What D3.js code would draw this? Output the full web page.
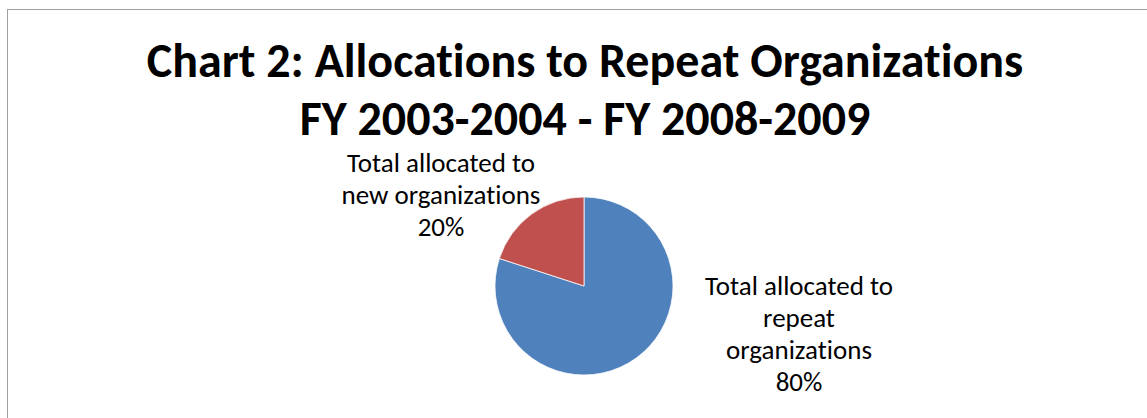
<!DOCTYPE html>
<html>
<head>
<meta charset="utf-8">
<script src="https://cdn.jsdelivr.net/npm/d3@7"></script>
<style>
  html, body { margin: 0; padding: 0; background: white; }
  svg { display: block; }
  text { font-variant-ligatures: none; font-feature-settings: "liga" 0, "clig" 0; }
</style>
</head>
<body>
<div id="chart"></div>
<script>
// data
const categories = ["Total allocated to repeat organizations", "Total allocated to new organizations"];
const values = [80, 20];
const labelLines = [
    ["Total allocated to", "repeat", "organizations", "80%"],
    ["Total allocated to", "new organizations", "20%"]
];
const titleLines = ["Chart 2: Allocations to Repeat Organizations", "FY 2003-2004 - FY 2008-2009"];

const width = 1147, height = 418;
const colors = ["#4F81BD", "#C0504D"];
const fontFamily = "Carlito, Calibri, 'Open Sans', 'Liberation Sans', sans-serif";

const svg = d3.select("#chart").append("svg")
    .attr("width", width)
    .attr("height", height);

svg.append("rect")
    .attr("width", width)
    .attr("height", height)
    .attr("fill", "white");

// chart border (runs off right and bottom)
svg.append("rect")
    .attr("x", 7.5)
    .attr("y", 9.5)
    .attr("width", width + 20)
    .attr("height", height + 20)
    .attr("fill", "none")
    .attr("stroke", "#a0a0a0")
    .attr("stroke-width", 1);

// title
svg.append("g")
    .attr("transform", "translate(585,0)")
    .selectAll("text")
    .data(titleLines)
    .enter().append("text")
    .attr("text-anchor", "middle")
    .attr("y", (d, i) => 77 + i * 58)
    .style("font-family", fontFamily)
    .style("font-size", "48px")
    .style("font-weight", "bold")
    .attr("fill", "#000")
    .text(d => d);

// pie
const cx = 584, cy = 286, radius = 89;
const pie = d3.pie().sort(null).value(d => d);
const arc = d3.arc().innerRadius(0).outerRadius(radius);

const pieG = svg.append("g").attr("transform", `translate(${cx},${cy})`);
pieG.selectAll("path")
    .data(pie(values))
    .enter().append("path")
    .attr("d", arc)
    .attr("fill", (d, i) => colors[i])
    .attr("stroke", "white")
    .attr("stroke-width", 0.75);

// data labels
const labelPos = [[799, 295], [441, 172]];
labelLines.forEach((lines, k) => {
    svg.append("g")
        .attr("transform", `translate(${labelPos[k][0]},${labelPos[k][1]})`)
        .selectAll("text")
        .data(lines)
        .enter().append("text")
        .attr("text-anchor", "middle")
        .attr("y", (d, i) => i * 32)
        .style("font-family", fontFamily)
        .style("font-size", "27px")
        .attr("fill", "#000")
        .text(d => d);
});
</script>
</body>
</html>
